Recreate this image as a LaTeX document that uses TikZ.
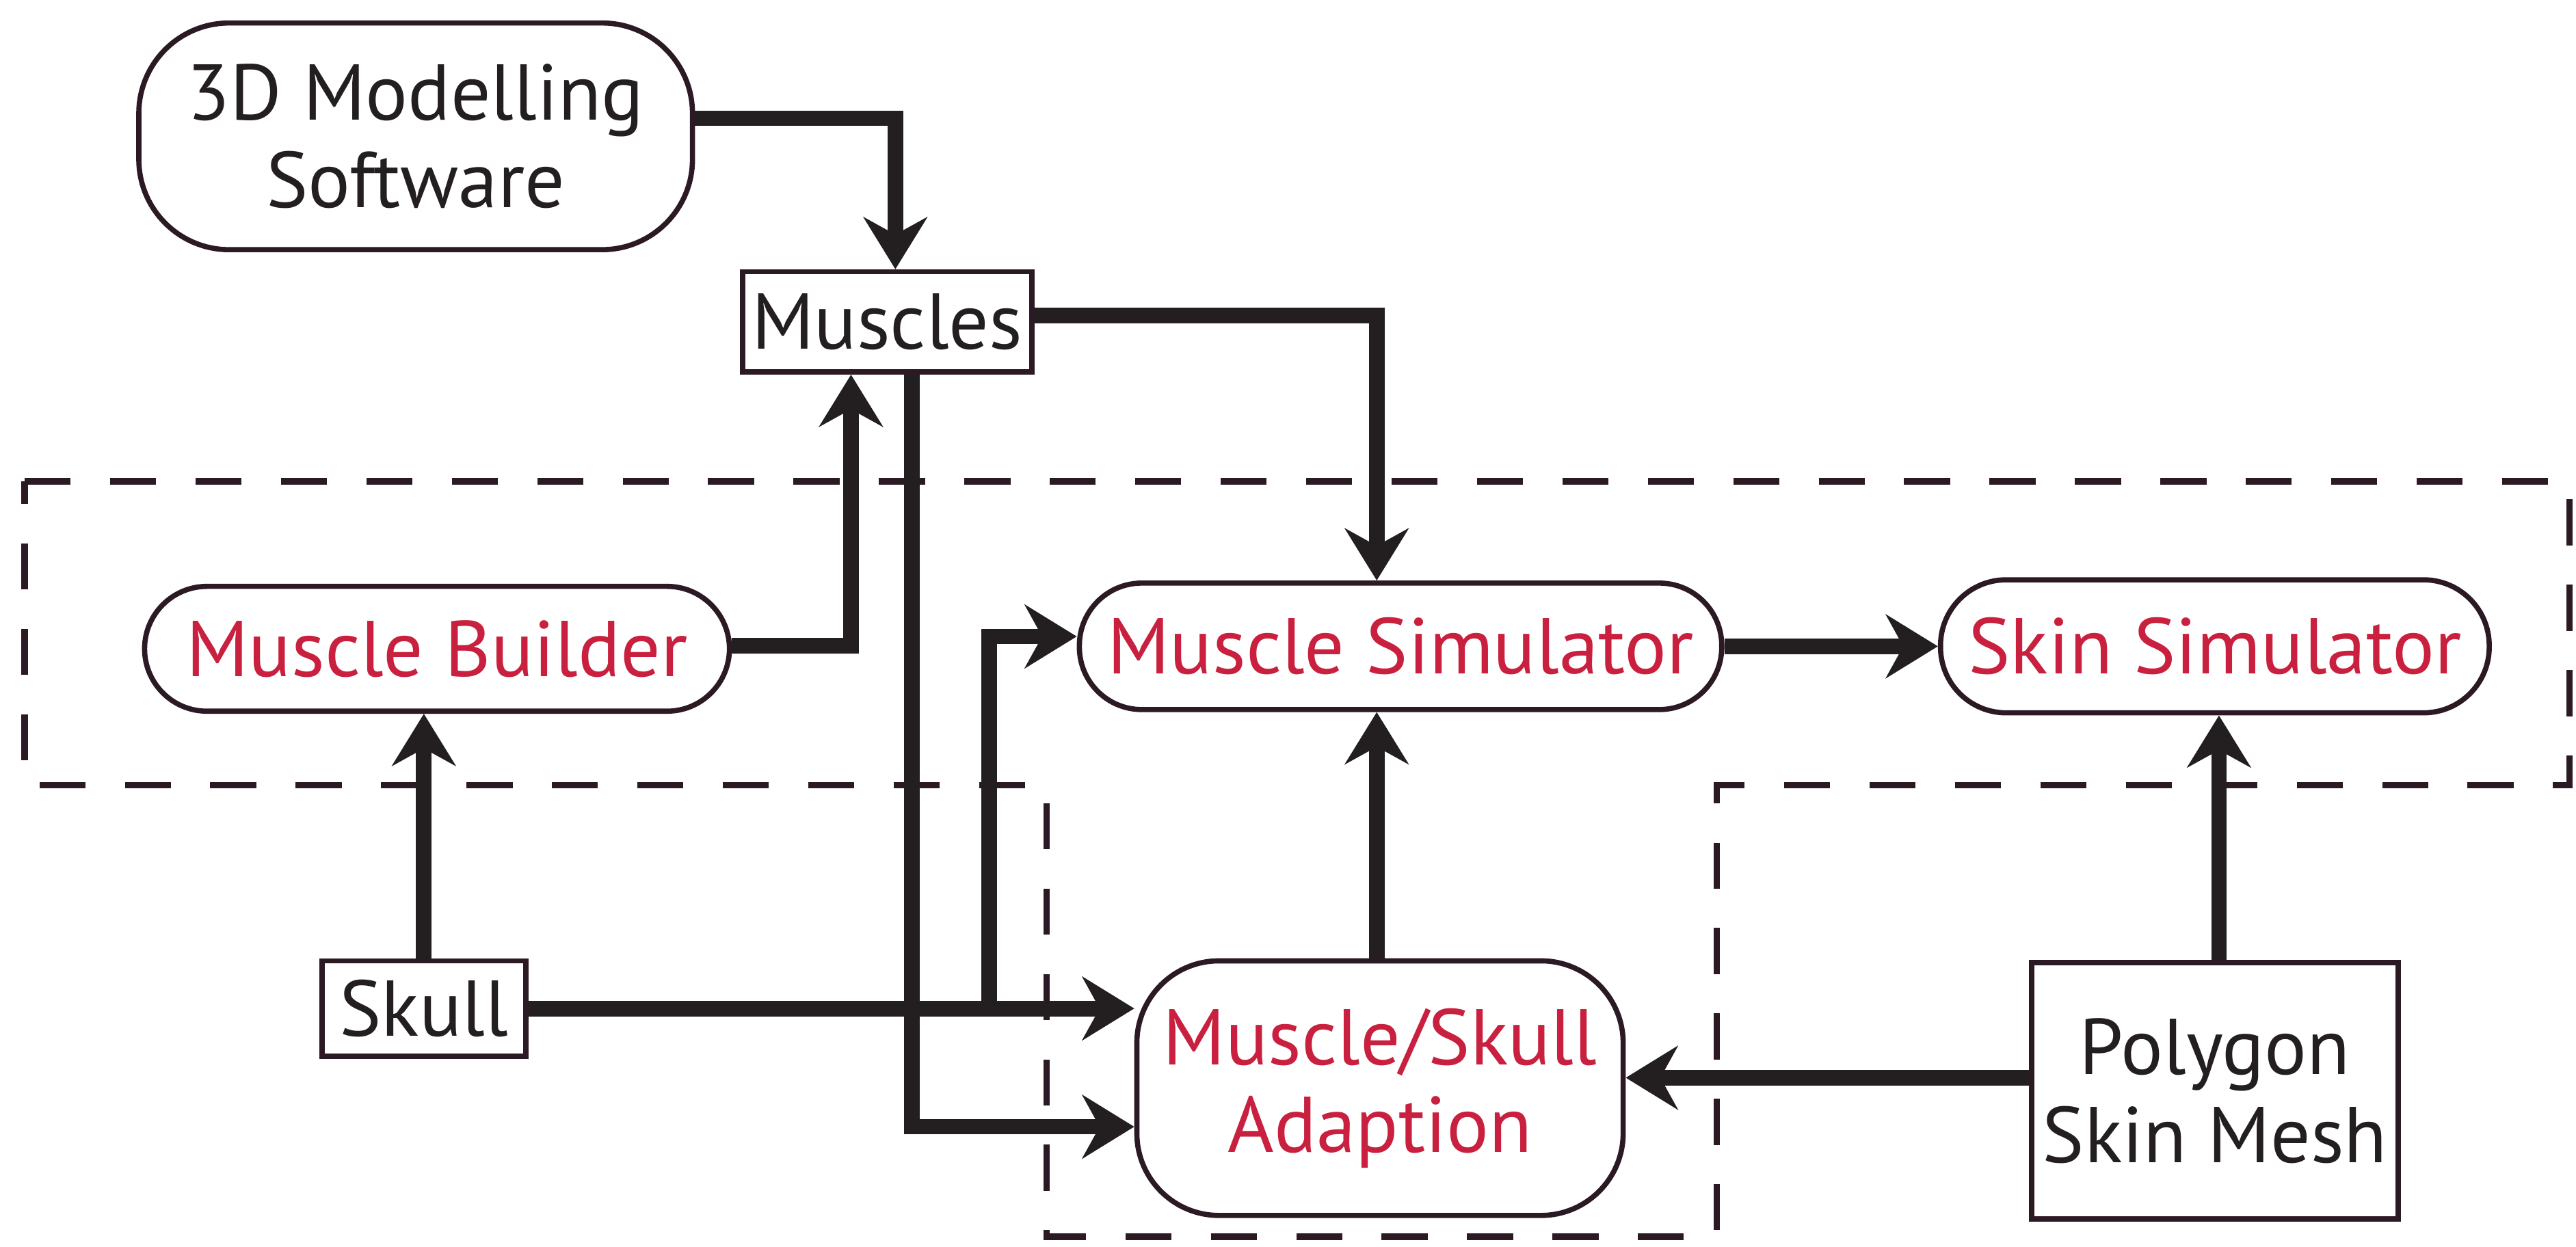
\documentclass[tikz,border=0pt]{standalone}
\usepackage{fontspec}
\setmainfont{PT Sans}
\usetikzlibrary{arrows.meta,calc,positioning}
\definecolor{Ink}{HTML}{231F20}
\definecolor{Rim}{HTML}{2B1A24}
\definecolor{Rose}{HTML}{C8203E}

\begin{document}
\begin{tikzpicture}[
      >={Stealth[length=9pt,width=11pt,inset=3pt]},
      tool/.style={draw=Rim, line width=0.9pt, rounded corners=#1, fill=white,
                   inner sep=0pt, align=center, text=Rose,
                   font=\fontsize{13.7}{15.2}\selectfont},
      tool/.default=0.38cm,
      item/.style={draw=Rim, line width=0.9pt, fill=white, inner sep=0pt,
                   align=center, text=Ink, font=\fontsize{13.7}{15.2}\selectfont},
      flow/.style={->, line width=2.7pt, Ink},
      zone/.style={draw=Rim, line width=1.1pt, dash pattern=on 0.28cm off 0.24cm}
    ]
      \useasboundingbox (0,0) rectangle (15.68,-7.59);
      % dashed outline of the simulation system
      \draw[zone] (0.15,-2.93) -- (15.64,-2.93) -- (15.64,-4.78) -- (10.45,-4.78)
        -- (10.45,-7.53) -- (6.37,-7.53) -- (6.37,-4.78) -- (0.15,-4.78) -- cycle;

      \node[tool=0.55cm, text=Ink, minimum width=3.37cm, minimum height=1.38cm] (soft) at (2.53,-0.83) {3D Modelling\\Software};
      \node[item, minimum width=1.76cm, minimum height=0.61cm] (muscles) at (5.40,-1.96) {Muscles};
      \node[tool, minimum width=3.56cm, minimum height=0.76cm] (builder) at (2.66,-3.95) {Muscle Builder};
      \node[tool, minimum width=3.91cm, minimum height=0.77cm] (musim) at (8.525,-3.935) {Muscle Simulator};
      \node[tool=0.4cm, minimum width=3.34cm, minimum height=0.81cm, right=1.30cm of musim] (skinsim) {Skin Simulator};
      \node[item, minimum width=1.24cm, minimum height=0.58cm] (skull) at (2.58,-6.14) {Skull};
      \node[tool=0.5cm, minimum width=2.96cm, minimum height=1.55cm] (adapt) at (8.40,-6.625) {Muscle/Skull\\Adaption};
      \node[item, minimum width=2.23cm, minimum height=1.56cm, below=1.49cm of skinsim] (mesh) {Polygon\\Skin Mesh};

      \coordinate (split) at (6.02,-6.14);

      \draw[flow] ([yshift=0.11cm]soft.east) -| ([xshift=0.05cm]muscles.north);
      \draw[flow] ([yshift=0.04cm]muscles.east) -| ([xshift=-0.145cm]musim.north);
      \draw[flow] ([yshift=0.02cm]builder.east) -| ([xshift=-0.22cm]muscles.south);
      \draw[flow] ([xshift=0.15cm]muscles.south) |- ([yshift=-0.235cm]adapt.west);
      \draw[flow] (skull.north) -- (skull.north |- builder.south);
      \draw[flow] (skull.east) -- (skull.east -| adapt.west);
      \draw[flow] (split) |- ([yshift=0.06cm]musim.west);
      \draw[flow] ([xshift=-0.02cm]adapt.north) -- ([xshift=-0.02cm]adapt.north |- musim.south);
      \draw[flow] (musim.east) -- (musim.east -| skinsim.west);
      \draw[flow] ([xshift=0.025cm]mesh.north) -- ([xshift=0.025cm]mesh.north |- skinsim.south);
      \draw[flow] ([yshift=0.08cm]mesh.west) -- ([yshift=0.08cm]mesh.west -| adapt.east);
    \end{tikzpicture}
\end{document}
